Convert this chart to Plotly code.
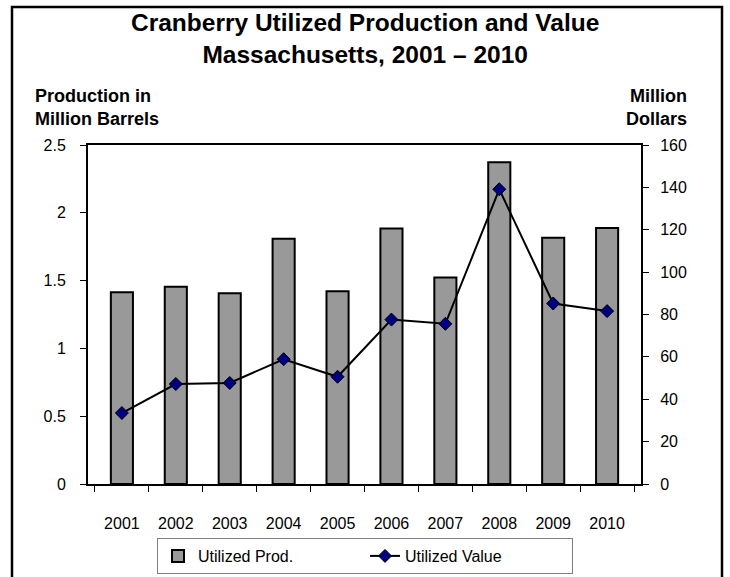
import plotly.graph_objects as go

years = ["2001", "2002", "2003", "2004", "2005", "2006", "2007", "2008", "2009", "2010"]
prod_million_barrels = [1.415, 1.454, 1.407, 1.809, 1.422, 1.885, 1.523, 2.372, 1.816, 1.887]
value_million_dollars = [33.5, 47.2, 47.7, 58.9, 50.6, 77.6, 75.6, 139.1, 85.2, 81.6]
left_ticks = [0, 0.5, 1, 1.5, 2, 2.5]
left_tick_text = ["0", "0.5", "1", "1.5", "2", "2.5"]
right_ticks = [0, 20, 40, 60, 80, 100, 120, 140, 160]

W, H = 730, 577
L, R, T, B = 88, 641, 145, 484  # plot area in pixels


def px(x):
    return (x - L) / (R - L)


def py(y):
    return (B - y) / (B - T)


FONT = "Liberation Sans, Arial, sans-serif"

fig = go.Figure()
fig.add_trace(go.Bar(
    x=years, y=prod_million_barrels, name="Utilized Prod.",
    marker=dict(color="#999999", line=dict(color="black", width=2)),
    yaxis="y",
))
fig.add_trace(go.Scatter(
    x=years, y=value_million_dollars, name="Utilized Value",
    mode="lines+markers",
    line=dict(color="black", width=2),
    marker=dict(symbol="diamond", size=10, color="#000080", line=dict(color="black", width=1)),
    yaxis="y2",
))

fig.update_layout(
    width=W, height=H, autosize=False,
    margin=dict(l=L, r=W - R, t=T, b=H - B, pad=0, autoexpand=False),
    paper_bgcolor="white", plot_bgcolor="white",
    font=dict(family=FONT, size=16, color="black"),
    bargap=0.59,
    showlegend=True,
    xaxis=dict(
        type="category", showline=True, linecolor="black", linewidth=2, mirror=True,
        ticks="outside", ticklen=6, tickcolor="black", tickwidth=1,
        tickson="boundaries", showgrid=False, ticklabelstandoff=24,
        tickfont=dict(size=16), fixedrange=True, automargin=False,
    ),
    yaxis=dict(
        range=[0, 2.5], tickvals=left_ticks, ticktext=left_tick_text,
        showline=True, linecolor="black", linewidth=2,
        ticks="outside", ticklen=6, tickcolor="black", tickwidth=1,
        showgrid=False, zeroline=False, ticklabelstandoff=11,
        tickfont=dict(size=16), automargin=False,
    ),
    yaxis2=dict(
        range=[0, 160], tickvals=right_ticks, overlaying="y", side="right",
        showline=True, linecolor="black", linewidth=2,
        ticks="outside", ticklen=6, tickcolor="black", tickwidth=1,
        showgrid=False, zeroline=False, ticklabelstandoff=8,
        tickfont=dict(size=16), automargin=False,
    ),
    legend=dict(
        orientation="h", x=px(365), xanchor="center", y=py(538), yanchor="top",
        bordercolor="#808080", borderwidth=1, bgcolor="white",
        font=dict(size=16), entrywidth=162, traceorder="normal",
    ),
)

fig.add_annotation(text="<b>Cranberry Utilized Production and Value<br>Massachusetts, 2001 \u2013 2010</b>",
                   xref="paper", yref="paper",
                   x=px(365), y=py(38.5), xanchor="center", yanchor="middle", showarrow=False,
                   align="center", font=dict(size=24.5, family=FONT))
fig.add_annotation(text="<b>Production in<br>Million Barrels</b>", xref="paper", yref="paper",
                   x=px(33), y=py(108), xanchor="left", yanchor="middle", align="left",
                   showarrow=False, font=dict(size=18, family=FONT))
fig.add_annotation(text="<b>Million<br>Dollars</b>", xref="paper", yref="paper",
                   x=px(689), y=py(108), xanchor="right", yanchor="middle", align="right",
                   showarrow=False, font=dict(size=18, family=FONT))

# outer frame (left, top, right sides)
fig.add_shape(type="path", xref="paper", yref="paper",
              path=f"M {px(12)},{py(580)} L {px(12)},{py(7)} L {px(722)},{py(7)} L {px(722)},{py(580)}",
              line=dict(color="black", width=2.5))

fig.write_html("out.html", config={"displayModeBar": False},
               post_script="document.body.style.margin='0';document.body.style.overflow='hidden';")
